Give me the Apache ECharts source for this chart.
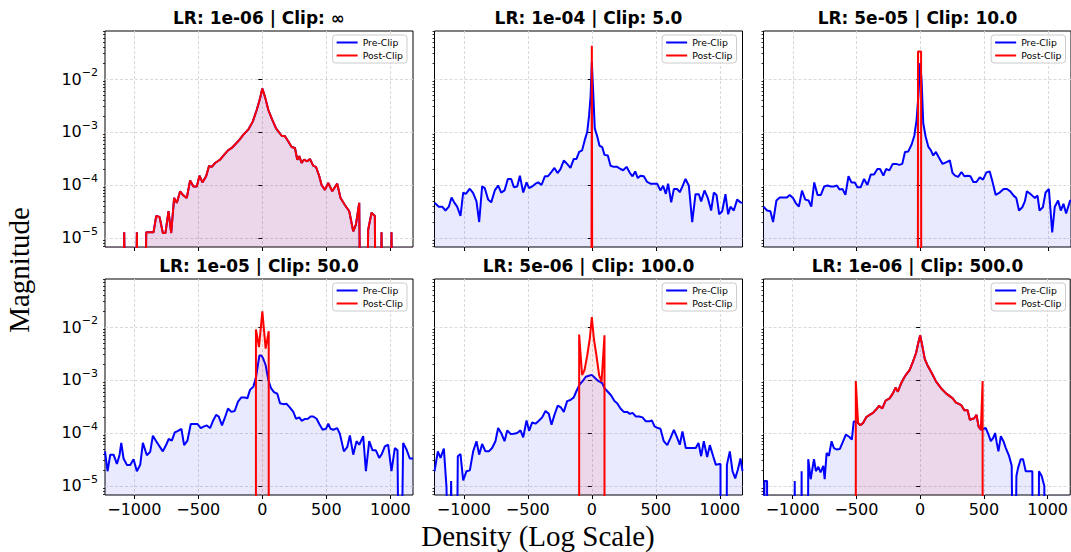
<!DOCTYPE html>
<html>
<head>
<meta charset="utf-8">
<script src="https://cdn.jsdelivr.net/npm/echarts@6/dist/echarts.min.js"></script>
<style>
  html, body { margin: 0; padding: 0; background: #fff; }
  #chart { width: 1071px; height: 552px; }
</style>
</head>
<body>
<div id="chart"></div>
<script>
// ---------------- data ----------------
const TITLES = [
  'LR: 1e-06 | Clip: \u221E', 'LR: 1e-04 | Clip: 5.0', 'LR: 5e-05 | Clip: 10.0',
  'LR: 1e-05 | Clip: 50.0', 'LR: 5e-06 | Clip: 100.0', 'LR: 1e-06 | Clip: 500.0'
];
const X_LABEL = 'Density (Log Scale)';
const Y_LABEL = 'Magnitude';
const SERIES_NAMES = ['Pre-Clip', 'Post-Clip'];
const X_TICKS = [-1000, -500, 0, 500, 1000];
const Y_TICKS = [1e-5, 1e-4, 1e-3, 1e-2];
const Y_MINOR_TICKS = [7e-6, 8e-6, 9e-6,
  2e-5, 3e-5, 4e-5, 5e-5, 6e-5, 7e-5, 8e-5, 9e-5,
  2e-4, 3e-4, 4e-4, 5e-4, 6e-4, 7e-4, 8e-4, 9e-4,
  2e-3, 3e-3, 4e-3, 5e-3, 6e-3, 7e-3, 8e-3, 9e-3,
  2e-2, 3e-2, 4e-2, 5e-2, 6e-2, 7e-2, 8e-2];
const X_RANGE = [-1229, 1177];
const Y_RANGE = [6.76e-6, 0.0805];

// Panel 1 (clip = inf): pre-clip and post-clip identical
const p1Hist = [[-1229,0],[-1097,0],[-1079,1.28e-5],[-1058,0],[-1001,0],[-980,1.28e-5],[-959,0],[-923,0],[-907,1.28e-5],[-850,1.28e-5],[-829,2.6e-5],[-803,2.5e-5],[-777,1.24e-5],[-757,1.24e-5],[-733,3.2e-5],[-712,1.24e-5],[-689,5.7e-5],[-668,4.6e-5],[-642,7.6e-5],[-621,6.5e-5],[-590,5.7e-5],[-564,1.22e-4],[-538,9.4e-5],[-512,9.4e-5],[-491,1.5e-4],[-468,1.12e-4],[-439,1.46e-4],[-416,2.3e-4],[-395,2.2e-4],[-369,2.6e-4],[-330,3.0e-4],[-299,3.7e-4],[-268,4.5e-4],[-239,5.0e-4],[-213,5.8e-4],[-179,7.1e-4],[-148,8.9e-4],[-109,1.12e-3],[-75,1.57e-3],[-44,2.6e-3],[-18,4.3e-3],[0,6.6e-3],[21,4.6e-3],[47,2.6e-3],[73,1.8e-3],[107,1.17e-3],[151,8.5e-4],[177,8.3e-4],[203,6.6e-4],[229,5.2e-4],[255,5.0e-4],[273,3.0e-4],[289,3.5e-4],[307,2.6e-4],[325,3.0e-4],[351,2.8e-4],[372,3.1e-4],[398,2.3e-4],[419,2.2e-4],[445,1.46e-4],[463,1.0e-4],[489,8.1e-5],[515,1.09e-4],[546,7.6e-5],[585,1.06e-4],[611,5.7e-5],[645,4.2e-5],[679,3.2e-5],[710,1.34e-5],[731,1.78e-5],[757,4.6e-5],[775,0],[801,0],[827,1.44e-5],[853,3.0e-5],[879,2.6e-5],[892,0],[918,0],[931,1.28e-5],[949,0],[991,0],[1009,1.28e-5],[1027,0],[1177,0]];

// Panel 2 (clip 5.0)
const p2Pre = [[-1229,4.6e-5],[-1195,3.9e-5],[-1169,3.9e-5],[-1143,3.3e-5],[-1117,3.9e-5],[-1096,5.8e-5],[-1073,4.6e-5],[-1052,3.9e-5],[-1026,2.6e-5],[-1005,7.2e-5],[-984,6.8e-5],[-953,8.5e-5],[-927,7.0e-5],[-901,4.9e-5],[-880,2.0e-5],[-857,9.4e-5],[-836,8.7e-5],[-810,5.3e-5],[-786,4.7e-5],[-758,7.9e-5],[-732,9.8e-5],[-708,7.2e-5],[-682,7.9e-5],[-656,1.3e-4],[-630,1.3e-4],[-609,9.1e-5],[-583,9.4e-5],[-562,1.5e-4],[-536,7.2e-5],[-510,1.12e-4],[-490,8.7e-5],[-466,9.4e-5],[-440,1.06e-4],[-419,1.12e-4],[-393,1.0e-4],[-367,1.46e-4],[-344,1.46e-4],[-318,1.73e-4],[-292,2.1e-4],[-268,1.68e-4],[-245,2.0e-4],[-219,2.9e-4],[-193,2.5e-4],[-167,2.1e-4],[-141,3.1e-4],[-120,3.1e-4],[-99,4.2e-4],[-76,4.5e-4],[-55,7.1e-4],[-36,1.0e-3],[-21,2.1e-3],[-10,4.6e-3],[0,2.1e-2],[10,6.2e-3],[23,1.17e-3],[42,8.3e-4],[60,5.5e-4],[81,5.2e-4],[99,3.7e-4],[125,3.6e-4],[146,2.3e-4],[172,2.2e-4],[198,2.2e-4],[224,2.0e-4],[245,1.9e-4],[271,2.2e-4],[297,1.7e-4],[318,1.46e-4],[339,1.8e-4],[359,1.35e-4],[380,1.5e-4],[406,1.46e-4],[432,1.14e-4],[458,1.06e-4],[484,1.06e-4],[510,1.06e-4],[536,7.9e-5],[557,9.7e-5],[578,6.8e-5],[596,1.06e-4],[620,4.7e-5],[641,8.4e-5],[667,8.4e-5],[687,7.3e-5],[708,9.4e-5],[732,1.3e-4],[758,9.7e-5],[784,2.0e-5],[810,6.7e-5],[836,6.7e-5],[854,4.9e-5],[880,7.9e-5],[906,5.7e-5],[932,3.3e-5],[953,7.2e-5],[974,6.5e-5],[995,2.8e-5],[1018,3.2e-5],[1044,6.7e-5],[1065,2.8e-5],[1083,3.9e-5],[1109,3.3e-5],[1135,5.3e-5],[1161,4.7e-5],[1177,4.6e-5]];
const p2Post = [[-5,0],[0,4.25e-2],[5,0]];

// Panel 3 (clip 10.0)
const p3Pre = [[-1229,3.9e-5],[-1201,3.3e-5],[-1175,3.2e-5],[-1154,2.0e-5],[-1128,5.1e-5],[-1102,5.8e-5],[-1071,5.8e-5],[-1045,5.8e-5],[-1024,6.5e-5],[-998,5.7e-5],[-972,4.4e-5],[-952,3.9e-5],[-928,7.8e-5],[-902,5.3e-5],[-876,5.1e-5],[-855,3.9e-5],[-832,1.12e-4],[-806,6.5e-5],[-780,6.5e-5],[-754,9.4e-5],[-728,9.8e-5],[-702,9.4e-5],[-676,9.4e-5],[-655,9.8e-5],[-634,8.2e-5],[-611,8.4e-5],[-588,6.5e-5],[-564,1.46e-4],[-541,1.12e-4],[-515,1.12e-4],[-494,9.1e-5],[-468,9.1e-5],[-442,1.3e-4],[-416,1.0e-4],[-390,1.57e-4],[-364,1.57e-4],[-338,2.0e-4],[-317,2.0e-4],[-291,1.5e-4],[-270,2.0e-4],[-244,1.89e-4],[-218,2.5e-4],[-192,2.5e-4],[-166,2.4e-4],[-143,2.5e-4],[-122,4.2e-4],[-96,4.3e-4],[-70,5.8e-4],[-49,8.5e-4],[-31,1.7e-3],[-16,5.3e-3],[-3,2.0e-2],[8,9.5e-3],[21,1.46e-3],[39,8.3e-4],[60,5.3e-4],[81,4.5e-4],[99,3.6e-4],[120,4.2e-4],[140,3.4e-4],[172,2.5e-4],[203,2.7e-4],[229,2.9e-4],[250,1.68e-4],[270,1.5e-4],[294,1.42e-4],[320,1.76e-4],[343,1.46e-4],[369,1.5e-4],[390,1.46e-4],[413,1.14e-4],[437,1.14e-4],[463,1.39e-4],[489,1.26e-4],[515,1.73e-4],[541,1.8e-4],[562,1.17e-4],[588,6.5e-5],[619,7.2e-5],[650,8.4e-5],[676,8.4e-5],[702,7.6e-5],[728,6.3e-5],[749,5.7e-5],[770,3.3e-5],[796,3.8e-5],[816,4.9e-5],[832,7.6e-5],[853,7.0e-5],[874,6.3e-5],[894,5.7e-5],[915,6.3e-5],[931,3.3e-5],[957,3.8e-5],[978,7.2e-5],[1004,8.4e-5],[1030,1.28e-5],[1050,3.9e-5],[1076,5.1e-5],[1097,3.3e-5],[1118,4.4e-5],[1139,2.9e-5],[1170,5.1e-5],[1177,5.0e-5]];
const p3Post = [[-22,0],[-20,3.3e-2],[4,3.3e-2],[6,0]];

// Panel 4 (clip 50.0)
const p4Pre = [[-1229,4.5e-5],[-1209,1.9e-5],[-1188,3.9e-5],[-1162,3.9e-5],[-1136,2.6e-5],[-1115,3.9e-5],[-1102,6.5e-5],[-1084,3.3e-5],[-1058,2.5e-5],[-1032,2.5e-5],[-1006,3.2e-5],[-980,1.9e-5],[-954,2.5e-5],[-933,6.5e-5],[-902,3.8e-5],[-876,4.4e-5],[-855,8.9e-5],[-829,7.0e-5],[-803,5.6e-5],[-777,4.5e-5],[-751,6.0e-5],[-731,7.7e-5],[-707,7.2e-5],[-684,1.03e-4],[-658,1.1e-4],[-632,1.2e-4],[-611,5.9e-5],[-585,7.2e-5],[-559,1.48e-4],[-533,1.48e-4],[-507,1.48e-4],[-481,1.24e-4],[-455,1.33e-4],[-434,1.39e-4],[-408,1.24e-4],[-387,1.66e-4],[-361,2.2e-4],[-341,2.05e-4],[-315,1.39e-4],[-294,1.9e-4],[-268,2.9e-4],[-242,2.5e-4],[-216,2.6e-4],[-190,3.9e-4],[-164,4.7e-4],[-138,4.7e-4],[-117,4.5e-4],[-96,6.5e-4],[-70,7.5e-4],[-49,1.15e-3],[-23,2.9e-3],[-8,2.9e-3],[5,2.6e-3],[26,1.9e-3],[47,1.0e-3],[68,7.0e-4],[91,5.9e-4],[117,5.5e-4],[138,3.65e-4],[164,3.5e-4],[190,3.55e-4],[216,3.0e-4],[242,2.5e-4],[263,1.86e-4],[289,1.97e-4],[307,1.7e-4],[330,1.83e-4],[356,1.86e-4],[377,2.05e-4],[398,2.05e-4],[424,1.86e-4],[445,1.48e-4],[471,1.15e-4],[497,1.2e-4],[515,1.5e-4],[533,1.2e-4],[554,1.15e-4],[585,1.24e-4],[606,9.6e-5],[637,4.5e-5],[663,5.4e-5],[684,9.0e-5],[710,3.9e-5],[736,7.0e-5],[757,6.0e-5],[788,8.7e-5],[809,1.9e-5],[835,7.0e-5],[861,4.7e-5],[887,4.7e-5],[913,3.4e-5],[933,4.0e-5],[957,5.6e-5],[983,6.0e-5],[1009,1.9e-5],[1035,5.2e-5],[1056,4.7e-5],[1074,0],[1100,6.5e-5],[1126,4.9e-5],[1152,3.3e-5],[1177,3.3e-5]];
const p4Post = [[-50,0],[-50,9.0e-3],[-26,4.2e-3],[0,1.97e-2],[26,3.9e-3],[50,8.3e-3],[50,0]];

// Panel 5 (clip 100.0)
const p5Pre = [[-1229,1.9e-5],[-1203,4.5e-5],[-1182,3.4e-5],[-1156,5.1e-5],[-1135,9.3e-6],[-1117,0],[-1099,1.24e-5],[-1078,0],[-1062,0],[-1047,3.65e-5],[-1026,4.0e-5],[-1005,1.28e-5],[-979,1.9e-5],[-953,1.97e-5],[-927,4.5e-5],[-901,7.0e-5],[-880,3.9e-5],[-857,6.2e-5],[-831,4.5e-5],[-805,4.5e-5],[-779,5.2e-5],[-753,7.0e-5],[-732,1.24e-4],[-708,1.0e-4],[-682,7.0e-5],[-661,1.12e-4],[-635,9.6e-5],[-609,9.7e-5],[-583,1.0e-4],[-557,1.12e-4],[-536,8.3e-5],[-510,1.73e-4],[-490,1.1e-4],[-466,1.58e-4],[-440,1.5e-4],[-414,1.7e-4],[-388,1.97e-4],[-362,2.6e-4],[-336,2.3e-4],[-315,1.43e-4],[-292,2.2e-4],[-266,3.3e-4],[-240,3.0e-4],[-219,2.5e-4],[-193,4.0e-4],[-167,4.2e-4],[-141,4.7e-4],[-120,6.2e-4],[-94,8.3e-4],[-70,9.6e-4],[-47,1.15e-3],[-23,1.2e-3],[0,1.25e-3],[23,1.1e-3],[50,9.6e-4],[81,8.7e-4],[99,7.0e-4],[125,6.0e-4],[151,5.1e-4],[177,4.0e-4],[198,3.65e-4],[224,2.9e-4],[250,2.5e-4],[276,2.5e-4],[297,2.3e-4],[318,2.4e-4],[344,2.05e-4],[370,2.05e-4],[396,1.97e-4],[422,1.66e-4],[448,1.66e-4],[469,1.73e-4],[490,1.33e-4],[516,1.24e-4],[536,1.2e-4],[562,7.0e-5],[589,5.9e-5],[615,8.1e-5],[641,1.15e-4],[667,8.1e-5],[687,6.0e-5],[708,1.07e-4],[734,5.2e-5],[760,5.2e-5],[786,5.2e-5],[812,5.2e-5],[833,6.5e-5],[854,3.65e-5],[875,7.0e-5],[901,3.5e-5],[922,5.9e-5],[948,3.65e-5],[969,2.5e-5],[995,2.6e-5],[1005,2.6e-5],[1008,0],[1049,0],[1055,2.5e-5],[1078,4.5e-5],[1099,1.9e-5],[1120,1.39e-5],[1141,2.05e-5],[1161,3.3e-5],[1177,1.9e-5]];
const p5Post = [[-99,0],[-99,7.2e-3],[-76,1.24e-3],[-57,1.54e-3],[-36,2.9e-3],[-16,6.0e-3],[0,1.54e-2],[16,6.0e-3],[36,2.9e-3],[57,1.24e-3],[76,9.3e-4],[99,7.0e-3],[99,0]];

// Panel 6 (clip 500.0); inside the clip window the pre-clip curve lies under the post-clip one
const p6PreLeft = [[-1229,0],[-1225,0],[-1222,1.24e-5],[-1201,1.24e-5],[-1195,0],[-990,0],[-984,1.24e-5],[-978,0],[-936,0],[-930,1.9e-5],[-924,0],[-884,0],[-878,3.2e-5],[-859,1.34e-5],[-833,3.2e-5],[-818,1.9e-5],[-799,2.3e-5],[-781,1.8e-5],[-760,2.4e-5],[-749,1.34e-5],[-734,4.2e-5],[-716,3.7e-5],[-695,7.0e-5],[-677,5.2e-5],[-656,4.9e-5],[-630,5.0e-5],[-604,7.0e-5],[-583,9.3e-5],[-557,8.5e-5],[-536,7.5e-5],[-521,1.65e-4],[-508,1.65e-4]];
const p6PreRight = [[515,1.24e-4],[536,9.3e-5],[554,7.0e-5],[573,8.1e-5],[588,1.0e-4],[601,6.5e-5],[614,4.5e-5],[633,8.7e-5],[653,7.0e-5],[672,5.2e-5],[698,3.65e-5],[718,2.4e-5],[737,0],[755,1.54e-5],[768,2.2e-5],[789,3.2e-5],[807,3.2e-5],[828,1.9e-5],[880,1.9e-5],[885,0],[927,0],[932,1.9e-5],[953,1.54e-5],[974,1.0e-5],[984,0],[1177,0]];
const p6Post = [[-505,0],[-505,9.6e-4],[-487,1.54e-4],[-469,1.4e-4],[-448,1.54e-4],[-422,2.0e-4],[-396,2.2e-4],[-370,2.4e-4],[-344,2.8e-4],[-323,3.25e-4],[-297,2.9e-4],[-271,4.1e-4],[-240,4.5e-4],[-214,5.6e-4],[-193,7.2e-4],[-175,6.0e-4],[-149,8.7e-4],[-130,1.07e-3],[-109,1.28e-3],[-83,1.54e-3],[-57,2.2e-3],[-31,3.3e-3],[-16,4.9e-3],[0,7.0e-3],[16,4.5e-3],[36,2.5e-3],[57,1.9e-3],[78,1.54e-3],[99,1.24e-3],[125,9.3e-4],[164,7.0e-4],[203,5.6e-4],[255,4.5e-4],[281,3.75e-4],[320,3.4e-4],[346,2.7e-4],[372,2.7e-4],[390,1.78e-4],[424,1.9e-4],[442,2.2e-4],[458,1.33e-4],[476,1.15e-4],[490,9.6e-4],[490,0]];

const PANELS = [
  { pre: p1Hist, post: p1Hist },
  { pre: p2Pre, post: p2Post },
  { pre: p3Pre, post: p3Post },
  { pre: p4Pre, post: p4Post },
  { pre: p5Pre, post: p5Post },
  { pre: p6PreLeft.concat(p6Post.slice(2, -2), p6PreRight), post: p6Post }
];

// ---------------- layout / style ----------------
const FONT = '"DejaVu Sans", sans-serif';
const SERIF = '"Liberation Serif", "DejaVu Serif", serif';
const COL_LEFT = [105, 434.5, 763.5];
const ROW_TOP = [31, 279];
const PW = 308, PH = 216;
const W = 1071;
const BLUE = '#0000ff', RED = '#ff0000';
const NONPOS = 1e-9; // zero bins are clipped below the axis, as matplotlib does on a log scale
const clipNonPositive = arr => arr.map(p => [p[0], p[1] > 0 ? p[1] : NONPOS]);

const grids = [], xAxes = [], yAxes = [], minorY = [], series = [], legends = [], titles = [];
const gridLine = { show: true, lineStyle: { color: '#d9d9d9', width: 1, type: [3, 2] } };

PANELS.forEach((p, i) => {
  const row = Math.floor(i / 3), col = i % 3;
  const left = COL_LEFT[col], top = ROW_TOP[row];
  grids.push({ left: left, top: top, width: PW, height: PH, show: true,
    borderColor: '#000', borderWidth: 1, backgroundColor: 'transparent', containLabel: false });
  xAxes.push({
    type: 'value', gridIndex: i, min: X_RANGE[0], max: X_RANGE[1],
    axisLine: { show: false },
    axisTick: { show: true, inside: false, length: 4, customValues: X_TICKS, lineStyle: { color: '#000', width: 1 } },
    axisLabel: { show: row === 1, customValues: X_TICKS, margin: 6, fontSize: 16, color: '#000', fontFamily: FONT,
      formatter: v => String(v).replace('-', '\u2212') },
    splitLine: gridLine
  });
  yAxes.push({
    type: 'log', logBase: 10, gridIndex: i, min: Y_RANGE[0], max: Y_RANGE[1],
    axisLine: { show: false },
    axisTick: { show: true, inside: false, length: 4, customValues: Y_TICKS, lineStyle: { color: '#000', width: 1 } },
    axisLabel: { show: col === 0, customValues: Y_TICKS, margin: 7, color: '#000', fontFamily: FONT,
      formatter: v => '{b|10}{s|\u2212' + Math.abs(Math.round(Math.log10(v))) + '}',
      rich: {
        b: { fontSize: 16, fontFamily: FONT, color: '#000', padding: [4, 0, 4, 0] },
        s: { fontSize: 11, fontFamily: FONT, color: '#000', verticalAlign: 'top' }
      } },
    splitLine: gridLine
  });
  minorY.push({
    type: 'log', logBase: 10, gridIndex: i, min: Y_RANGE[0], max: Y_RANGE[1], position: 'left', offset: 0,
    axisLine: { show: false },
    axisTick: { show: true, inside: false, length: 2, customValues: Y_MINOR_TICKS, lineStyle: { color: '#000', width: 0.8 } },
    axisLabel: { show: false }, splitLine: { show: false }
  });
  series.push({
    type: 'line', name: SERIES_NAMES[0], xAxisIndex: i, yAxisIndex: i,
    data: clipNonPositive(p.pre), symbol: 'none', clip: true, z: 2,
    lineStyle: { color: BLUE, width: 2 }, itemStyle: { color: BLUE },
    areaStyle: { color: 'rgba(0,0,255,0.12)', origin: 'start' }
  });
  series.push({
    type: 'line', name: SERIES_NAMES[1], xAxisIndex: i, yAxisIndex: i,
    data: clipNonPositive(p.post), symbol: 'none', clip: true, z: 3,
    lineStyle: { color: RED, width: 2 }, itemStyle: { color: RED },
    areaStyle: { color: 'rgba(255,0,0,0.12)', origin: 'start' }
  });
  legends.push({
    data: SERIES_NAMES, orient: 'vertical', right: W - (left + PW - 6), top: top + 4,
    itemWidth: 21, itemHeight: 10, itemGap: 4, padding: [3, 4, 3, 3],
    backgroundColor: 'rgba(255,255,255,0.8)', borderColor: '#cccccc', borderWidth: 1, borderRadius: 3,
    selectedMode: false,
    itemStyle: { opacity: 0 },
    lineStyle: { width: 2 },
    textStyle: { fontSize: 9.3, fontFamily: FONT, color: '#000' }
  });
  titles.push({
    text: TITLES[i], left: left + PW / 2, top: top - 23, textAlign: 'center', padding: 0,
    textStyle: { fontSize: 17, fontWeight: 'bold', fontFamily: FONT, color: '#000', lineHeight: 20 }
  });
});

const option = {
  animation: false,
  backgroundColor: '#ffffff',
  textStyle: { fontFamily: FONT },
  title: titles,
  legend: legends,
  grid: grids,
  xAxis: xAxes,
  yAxis: yAxes.concat(minorY),
  series: series,
  graphic: [
    { type: 'text', x: 19, y: 270, rotation: Math.PI / 2,
      style: { text: Y_LABEL, font: '29px ' + SERIF, fill: '#000', textAlign: 'center', textVerticalAlign: 'middle' } },
    { type: 'text', x: 538, y: 536,
      style: { text: X_LABEL, font: '29px ' + SERIF, fill: '#000', textAlign: 'center', textVerticalAlign: 'middle' } }
  ]
};

const chart = echarts.init(document.getElementById('chart'), null, { renderer: 'svg', width: 1071, height: 552 });
chart.setOption(option);
</script>
</body>
</html>
